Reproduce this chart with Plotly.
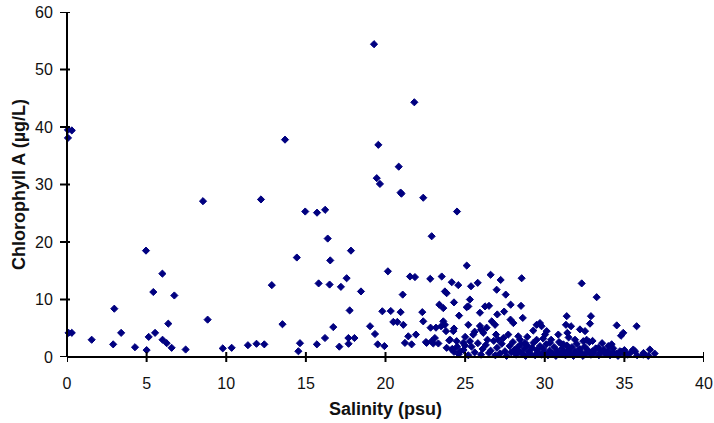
import plotly.graph_objects as go

# Salinity (psu) and Chlorophyll A (ug/L)
salinity = [
    0.06, 0.3, 0.06, 0.1, 0.3, 1.55, 2.97, 2.9, 3.4, 4.27, 4.96, 5.0, 5.13, 5.42, 5.53,
    5.99, 6.0, 6.26, 6.36, 6.57, 6.74, 7.45, 8.54, 8.83, 9.78, 10.34, 11.36, 11.9, 12.39,
    12.18, 12.86, 13.53, 13.69, 14.43, 14.63, 14.53, 14.96, 15.7, 16.21, 15.69, 16.2,
    16.37, 16.53, 15.8, 16.49, 16.72, 17.1, 17.2, 17.56, 17.83, 17.75, 17.67, 17.68,
    18.05, 18.46, 19.03, 19.34, 19.51, 19.93, 19.28, 21.81, 19.55, 20.83, 19.45, 19.65,
    20.95, 21.0, 22.37, 19.8, 20.15, 22.9, 24.49, 20.33, 20.95, 22.31, 23.38, 23.63,
    24.3, 25.2, 25.3, 24.62, 20.49, 20.74, 21.12, 22.37, 22.83, 23.17, 23.49, 23.73,
    23.8, 24.26, 25.2, 21.43, 21.91, 21.22, 21.64, 22.58, 22.9, 23.1, 24.05, 24.47,
    24.88, 25.3, 24.16, 24.68, 21.08, 23.73, 21.54, 21.85, 22.81, 23.53, 24.16, 24.57,
    25.37, 25.79, 25.1, 23.84, 26.6, 27.23, 28.55, 26.98, 27.55, 32.32, 33.26, 26.25,
    26.5, 27.86, 28.51, 27.02, 27.45, 27.85, 28.03, 28.62, 31.38, 32.9, 29.49, 29.8,
    32.84, 31.33, 31.65, 34.52, 35.77, 25.93, 26.88, 26.35, 32.21, 32.53, 34.93, 34.79,
    29.28, 30.12, 30.02, 30.85, 31.42, 26.94, 27.71, 28.34, 30.33, 31.06, 31.9, 32.42,
    32.63, 33.36, 33.99, 35.56, 36.6, 36.9, 36.19, 35.04, 34.3, 34.72, 35.67, 25.93,
    26.14, 26.67, 29.7, 25.51, 27.08, 28.45, 28.76, 29.49, 31.17, 24.0, 23.32, 22.54,
    23.0, 24.2, 23.84, 25.1, 26.0, 23.63, 24.3, 25.0, 25.6,
    24.3, 24.6, 24.9, 25.2, 25.4, 25.6, 25.8, 26.0, 26.1, 26.3, 26.5, 26.6, 26.8, 26.9,
    27.0, 27.2, 27.3, 27.5, 27.6, 27.8, 27.9, 28.0, 28.1, 28.2, 28.3, 28.4, 28.5, 28.6,
    28.7, 28.8, 28.9, 29.0, 29.1, 29.2, 29.3, 29.4, 29.5, 29.6, 29.7, 29.8, 29.9, 30.0,
    30.1, 30.2, 30.3, 30.5, 30.6, 30.7, 30.8, 30.9, 31.0, 31.1, 31.2, 31.3, 31.4, 31.5,
    31.6, 31.7, 31.8, 31.9, 32.0, 32.1, 32.2, 32.3, 32.4, 32.5, 32.6, 32.7, 32.8, 32.9,
    33.0, 33.1, 33.2, 33.4, 33.5, 33.7, 33.8, 34.0, 34.1, 34.3, 34.5, 34.6, 34.8, 35.0,
    35.2, 35.4, 35.8, 36.2, 36.5, 26.4, 27.4, 28.9, 30.4, 31.5, 33.0, 33.6, 34.2, 29.9,
    25.0, 24.5,
]
chlorophyll = [
    39.5, 39.4, 38.1, 4.2, 4.2, 3.0, 8.4, 2.2, 4.2, 1.7, 18.5, 1.2, 3.5, 11.3, 4.2,
    14.5, 3.0, 2.4, 5.8, 1.6, 10.7, 1.3, 27.1, 6.5, 1.5, 1.6, 2.05, 2.3, 2.2,
    27.4, 12.5, 5.7, 37.8, 17.3, 2.4, 1.0, 25.3, 25.1, 25.6, 2.2, 3.3,
    20.6, 16.8, 12.8, 12.6, 5.2, 1.8, 12.2, 13.7, 18.5, 8.1, 3.3, 2.3,
    3.3, 11.4, 5.35, 4.0, 2.2, 1.9, 54.4, 44.3, 36.9, 33.1, 31.1, 30.1,
    28.6, 28.4, 27.7, 7.95, 14.9, 21.0, 25.3, 8.0, 7.8, 7.8, 9.1, 8.5,
    9.5, 8.8, 10.0, 7.2, 6.1, 6.1, 5.6, 6.2, 5.1, 5.1, 5.35, 5.6,
    4.5, 4.5, 5.6, 3.6, 3.9, 2.45, 2.2, 2.45, 2.75, 3.3, 3.0, 2.75,
    2.45, 2.75, 1.3, 1.0, 10.85, 11.4, 14.0, 13.9, 13.6, 14.0, 13.0, 12.5,
    12.3, 12.9, 15.9, 11.1, 14.3, 13.4, 13.7, 11.7, 10.85, 12.8, 10.4, 8.8,
    8.9, 9.1, 8.9, 7.4, 7.9, 6.5, 5.9, 6.8, 7.1, 7.1, 5.6, 5.35,
    5.8, 5.6, 5.35, 5.5, 5.35, 5.4, 5.6, 5.1, 4.8, 4.5, 4.2, 3.7,
    4.6, 4.5, 3.9, 3.9, 4.2, 3.9, 3.9, 3.6, 2.45, 2.2, 3.0, 2.75,
    3.0, 1.6, 1.9, 1.3, 1.3, 0.6, 0.4, 0.4, 0.7, 1.0, 1.0, 7.7,
    4.2, 6.2, 5.9, 3.9, 3.0, 3.0, 2.45, 3.0, 2.2, 2.9, 2.35, 2.6,
    2.35, 1.4, 1.6, 8.65, 4.8, 6.2, 4.95, 3.5, 4.4,
    0.9, 0.5, 1.2, 0.3, 1.8, 0.8, 2.4, 0.4, 1.4, 2.1, 0.7, 1.1, 2.8, 0.3,
    1.6, 0.6, 2.3, 1.0, 0.2, 1.9, 0.8, 2.6, 1.2, 0.4, 1.7, 0.9, 2.2, 0.5,
    1.4, 0.2, 2.0, 1.0, 0.6, 1.6, 2.5, 0.3, 1.2, 0.8, 1.9, 0.4, 1.4, 0.7,
    2.2, 0.3, 1.1, 0.6, 1.7, 0.2, 1.0, 2.6, 0.5, 1.5, 0.9, 0.3, 2.0, 1.2,
    0.6, 1.7, 0.2, 1.0, 2.3, 0.5, 1.4, 0.8, 0.2, 1.8, 0.6, 1.2, 2.6, 0.4,
    1.0, 0.7, 1.5, 0.3, 0.9, 1.3, 0.5, 1.0, 0.3, 1.5, 0.6, 0.2, 0.9, 1.2,
    0.4, 0.8, 0.3, 0.7, 0.2, 3.0, 3.3, 3.5, 3.0, 3.4, 2.8, 2.4, 2.2, 3.2,
    2.0, 1.8,
]

x_ticks = [0, 5, 10, 15, 20, 25, 30, 35, 40]
y_ticks = [0, 10, 20, 30, 40, 50, 60]

fig = go.Figure()
fig.add_trace(go.Scatter(
    x=salinity, y=chlorophyll, mode="markers",
    marker=dict(symbol="diamond", size=5.5, color="#000080",
                line=dict(width=1, color="#000080")),
    hoverinfo="skip", showlegend=False, cliponaxis=False,
))

# axis lines and crossing tick marks drawn as shapes
axis_line = dict(color="black", width=2)
fig.add_shape(type="line", xref="paper", yref="paper", x0=0, x1=1, y0=0, y1=0,
              line=axis_line, layer="above")
fig.add_shape(type="line", xref="paper", yref="paper", x0=0, x1=0, y0=0, y1=1,
              line=axis_line, layer="above")
for t in x_ticks:
    fig.add_shape(type="line", xref="x", yref="paper", ysizemode="pixel", yanchor=0,
                  x0=t, x1=t, y0=-5, y1=5, line=axis_line, layer="above")
for t in y_ticks:
    fig.add_shape(type="line", yref="y", xref="paper", xsizemode="pixel", xanchor=0,
                  y0=t, y1=t, x0=-7, x1=3, line=axis_line, layer="above")

tick_font = dict(family="Arial, Liberation Sans, sans-serif", size=16, color="#111111")
title_font = dict(family="Arial, Liberation Sans, sans-serif", size=18, color="#111111")

fig.update_layout(
    width=714, height=423,
    margin=dict(l=67, r=10, t=12, b=65.5),
    paper_bgcolor="white", plot_bgcolor="white",
    xaxis=dict(
        range=[0, 40], tickvals=x_ticks, ticks="outside", ticklen=12,
        tickcolor="rgba(0,0,0,0)", showline=False,
        showgrid=False, zeroline=False, tickfont=tick_font, automargin=False,
        title=dict(text="<b>Salinity (psu)</b>", font=title_font, standoff=11),
    ),
    yaxis=dict(
        range=[0, 60], tickvals=y_ticks, ticks="outside", ticklen=10,
        tickcolor="rgba(0,0,0,0)", showline=False,
        showgrid=False, zeroline=False, tickfont=tick_font, automargin=False,
        title=dict(text="<b>Chlorophyll A (µg/L)</b>", font=title_font, standoff=4),
    ),
)

fig.write_html("out.html", config={"displayModeBar": False},
               post_script="document.body.style.margin='0px';")
